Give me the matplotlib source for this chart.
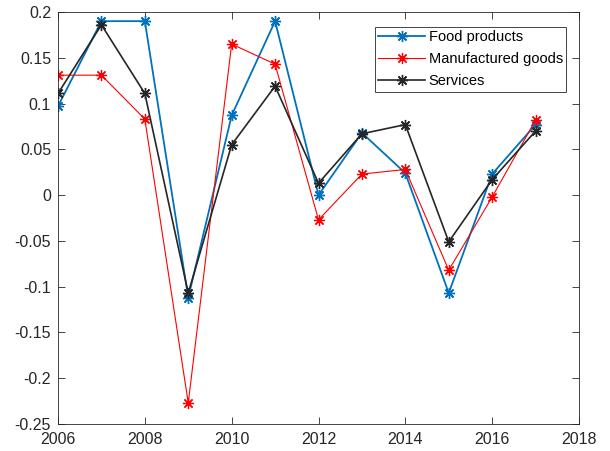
import matplotlib
matplotlib.use('Agg')
import matplotlib.pyplot as plt

years = [2006, 2007, 2008, 2009, 2010, 2011, 2012, 2013, 2014, 2015, 2016, 2017]
food = [0.097, 0.190, 0.190, -0.112, 0.087, 0.190, 0.000, 0.068, 0.024, -0.107, 0.023, 0.077]
manuf = [0.131, 0.131, 0.083, -0.227, 0.165, 0.143, -0.027, 0.023, 0.028, -0.082, -0.002, 0.082]
services = [0.111, 0.186, 0.111, -0.107, 0.055, 0.119, 0.013, 0.067, 0.077, -0.051, 0.017, 0.070]

plt.rcParams['font.family'] = ['Liberation Sans', 'DejaVu Sans']
plt.rcParams['font.size'] = 11.5

fig = plt.figure(figsize=(6.10, 4.51), dpi=100)
ax = fig.add_axes([58/610, 27/451, 521/610, 412/451])

ast = (8, 2, 0)
ax.plot(years, food, color='#0072BD', lw=1.3, marker=ast, ms=8, mew=1.0, label='Food products')
ax.plot(years, manuf, color='#FF0000', lw=0.8, marker=ast, ms=8, mew=0.9, label='Manufactured goods')
ax.plot(years, services, color='#262626', lw=1.2, marker=ast, ms=8, mew=1.0, label='Services')

ax.set_xlim(2006, 2018)
ax.set_ylim(-0.25, 0.2)
ax.set_xticks(range(2006, 2019, 2))
ax.set_yticks([-0.25, -0.2, -0.15, -0.1, -0.05, 0, 0.05, 0.1, 0.15, 0.2])
ax.set_yticklabels(['-0.25', '-0.2', '-0.15', '-0.1', '-0.05', '0', '0.05', '0.1', '0.15', '0.2'])
ax.tick_params(direction='in', top=True, right=True, length=5, width=0.6, colors='#262626', labelsize=11.5)
ax.tick_params(axis='y', pad=5)
ax.tick_params(axis='x', pad=6)
for s in ax.spines.values():
    s.set_linewidth(0.6)
    s.set_color('#262626')

leg = ax.legend(loc='upper right', bbox_to_anchor=(0.975, 0.963), fancybox=False, framealpha=1,
                edgecolor='#262626', borderpad=0.22, labelspacing=0.55, handlelength=3.2,
                handletextpad=0.25, borderaxespad=0, fontsize=10.5)
leg.get_frame().set_linewidth(0.6)

fig.savefig('out.png', dpi=100)
